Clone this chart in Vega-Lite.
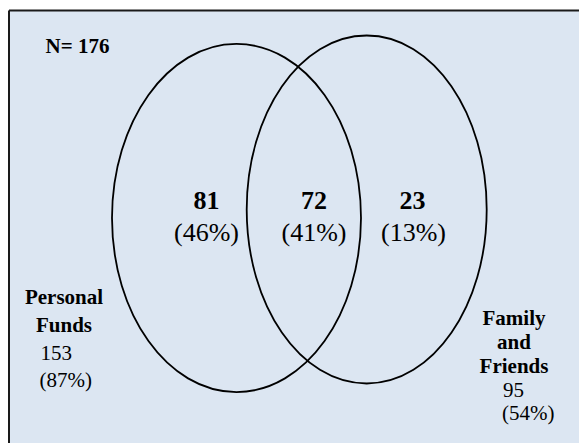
{
  "$schema": "https://vega.github.io/schema/vega-lite/v6.json",
  "width": 570,
  "height": 432.5,
  "autosize": {"type": "none"},
  "padding": {"left": 9, "top": 10.5, "right": 0, "bottom": 0},
  "background": "white",
  "config": {
    "view": {"fill": "#dce6f2", "stroke": null}
  },
  "layer": [
    {
      "data": {"values": [{"set": "Personal Funds", "x": 236.5, "y": 218}]},
      "mark": {"type": "point", "shape": "M-1,0A1,1.398,0,1,1,1,0A1,1.398,0,1,1,-1,0Z", "size": 62001, "filled": false, "stroke": "#000000", "strokeWidth": 1.8, "opacity": 1},
      "encoding": {
        "x": {"field": "x", "type": "quantitative", "scale": {"domain": [9, 579]}, "axis": null},
        "y": {"field": "y", "type": "quantitative", "scale": {"domain": [10.5, 443], "reverse": true}, "axis": null}
      }
    },
    {
      "data": {"values": [{"set": "Family and Friends", "x": 366.7, "y": 209.5}]},
      "mark": {"type": "point", "shape": "M-1,0A1,1.45,0,1,1,1,0A1,1.45,0,1,1,-1,0Z", "size": 57600, "filled": false, "stroke": "#000000", "strokeWidth": 1.8, "opacity": 1},
      "encoding": {
        "x": {"field": "x", "type": "quantitative", "scale": {"domain": [9, 579]}, "axis": null},
        "y": {"field": "y", "type": "quantitative", "scale": {"domain": [10.5, 443], "reverse": true}, "axis": null}
      }
    },
    {
      "data": {"values": [{}]},
      "mark": {"type": "rule", "color": "#1a1a1a", "strokeWidth": 2},
      "encoding": {
        "y": {"datum": 10.5, "type": "quantitative", "scale": {"domain": [10.5, 443], "reverse": true}, "axis": null}
      }
    },
    {
      "data": {"values": [{}]},
      "mark": {"type": "rule", "color": "#1a1a1a", "strokeWidth": 2},
      "encoding": {
        "x": {"datum": 9, "type": "quantitative", "scale": {"domain": [9, 579]}, "axis": null}
      }
    },
    {
      "data": {"values": [
        {"label": "N= 176", "x": 77.5, "y": 53},
        {"label": "Personal", "x": 64, "y": 304},
        {"label": "Funds", "x": 64, "y": 332},
        {"label": "Family", "x": 514, "y": 325},
        {"label": "and", "x": 514, "y": 348.5},
        {"label": "Friends", "x": 514, "y": 373}
      ]},
      "mark": {"type": "text", "font": "Liberation Serif", "color": "#000000", "fontSize": 21, "fontWeight": "bold", "align": "center", "baseline": "alphabetic"},
      "encoding": {
        "x": {"field": "x", "type": "quantitative", "scale": {"domain": [9, 579]}, "axis": null},
        "y": {"field": "y", "type": "quantitative", "scale": {"domain": [10.5, 443], "reverse": true}, "axis": null},
        "text": {"field": "label"}
      }
    },
    {
      "data": {"values": [
        {"label": "153", "x": 40.5, "y": 360},
        {"label": "(87%)", "x": 39.5, "y": 387},
        {"label": "95", "x": 503, "y": 396.5},
        {"label": "(54%)", "x": 502, "y": 420}
      ]},
      "mark": {"type": "text", "font": "Liberation Serif", "color": "#000000", "fontSize": 21, "align": "left", "baseline": "alphabetic"},
      "encoding": {
        "x": {"field": "x", "type": "quantitative", "scale": {"domain": [9, 579]}, "axis": null},
        "y": {"field": "y", "type": "quantitative", "scale": {"domain": [10.5, 443], "reverse": true}, "axis": null},
        "text": {"field": "label"}
      }
    },
    {
      "data": {"values": [
        {"label": "81", "x": 206.5, "y": 208.5},
        {"label": "72", "x": 314, "y": 208.5},
        {"label": "23", "x": 412.5, "y": 208.5}
      ]},
      "mark": {"type": "text", "font": "Liberation Serif", "color": "#000000", "fontSize": 26, "fontWeight": "bold", "align": "center", "baseline": "alphabetic"},
      "encoding": {
        "x": {"field": "x", "type": "quantitative", "scale": {"domain": [9, 579]}, "axis": null},
        "y": {"field": "y", "type": "quantitative", "scale": {"domain": [10.5, 443], "reverse": true}, "axis": null},
        "text": {"field": "label"}
      }
    },
    {
      "data": {"values": [
        {"label": "(46%)", "x": 206.5, "y": 241},
        {"label": "(41%)", "x": 314, "y": 241},
        {"label": "(13%)", "x": 413.5, "y": 241}
      ]},
      "mark": {"type": "text", "font": "Liberation Serif", "color": "#000000", "fontSize": 26, "align": "center", "baseline": "alphabetic"},
      "encoding": {
        "x": {"field": "x", "type": "quantitative", "scale": {"domain": [9, 579]}, "axis": null},
        "y": {"field": "y", "type": "quantitative", "scale": {"domain": [10.5, 443], "reverse": true}, "axis": null},
        "text": {"field": "label"}
      }
    }
  ]
}
